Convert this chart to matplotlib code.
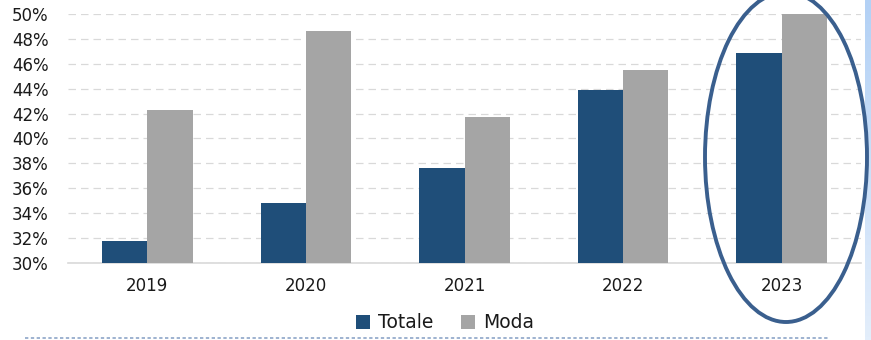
import matplotlib
matplotlib.use("Agg")
import matplotlib.pyplot as plt
from matplotlib.patches import Ellipse
import numpy as np

# share values by year, in percent
years = ["2019", "2020", "2021", "2022", "2023"]
totale = [31.8, 34.8, 37.6, 43.9, 46.9]
moda = [42.3, 48.6, 41.7, 45.5, 50.0]
y_ticks = [30, 32, 34, 36, 38, 40, 42, 44, 46, 48, 50]

W, H = 871, 340
fig = plt.figure(figsize=(W / 100, H / 100), dpi=100)
fig.patch.set_facecolor("white")

ax = fig.add_axes([68 / W, (H - 263) / H, (861 - 68) / W, (263 - 14) / H])
x = np.arange(len(years))
bw = 0.285
ax.bar(x - bw / 2, totale, bw, color="#1f4e79", label="Totale", zorder=3)
ax.bar(x + bw / 2, moda, bw, color="#a5a5a5", label="Moda", zorder=3)

ax.set_xlim(-0.5, len(years) - 0.5)
ax.set_ylim(30, 50)
ax.set_yticks(y_ticks)
ax.set_yticklabels([f"{v}%" for v in y_ticks])
ax.set_xticks(x)
ax.set_xticklabels(years)
ax.tick_params(axis="both", length=0, labelsize=12, colors="#1a1a1a")
ax.tick_params(axis="x", pad=10)
ax.tick_params(axis="y", pad=14)

ax.grid(axis="y", color="#d9d9d9", linestyle=(0, (6, 4)), linewidth=0.9, zorder=0)
for side in ["top", "right", "left"]:
    ax.spines[side].set_visible(False)
ax.spines["bottom"].set_color("#d9d9d9")
ax.spines["bottom"].set_linewidth(1.2)

leg = fig.legend(loc="center", bbox_to_anchor=(445 / W, (H - 323) / H), ncol=2,
                 frameon=False, fontsize=13.5, handlelength=0.75, handleheight=0.75,
                 handletextpad=0.4, columnspacing=1.5)
for t in leg.get_texts():
    t.set_color("#1a1a1a")

# highlight around the latest year
fig.patches.append(Ellipse((786 / W, (H - 157) / H), 162 / W, 330 / H,
                           transform=fig.transFigure, fill=False,
                           edgecolor="#3a5f8e", linewidth=2.8, zorder=5))

# dotted separator under the legend
fig.add_artist(plt.Line2D([25 / W, 828 / W], [(H - 338) / H] * 2,
                          transform=fig.transFigure, color="#8ea6c8",
                          linestyle=(0, (2, 1.5)), linewidth=1.2))

# light blue strip on the right edge
grad = np.linspace(0, 1, 100).reshape(-1, 1)
sax = fig.add_axes([865 / W, 0, 6 / W, 1])
sax.imshow(grad, aspect="auto", cmap=matplotlib.colors.LinearSegmentedColormap.from_list(
    "strip", ["#b3d1f5", "#e3eefb"]), extent=[0, 1, 1, 0])
sax.axis("off")

fig.savefig("out.png", dpi=100, facecolor="white")
